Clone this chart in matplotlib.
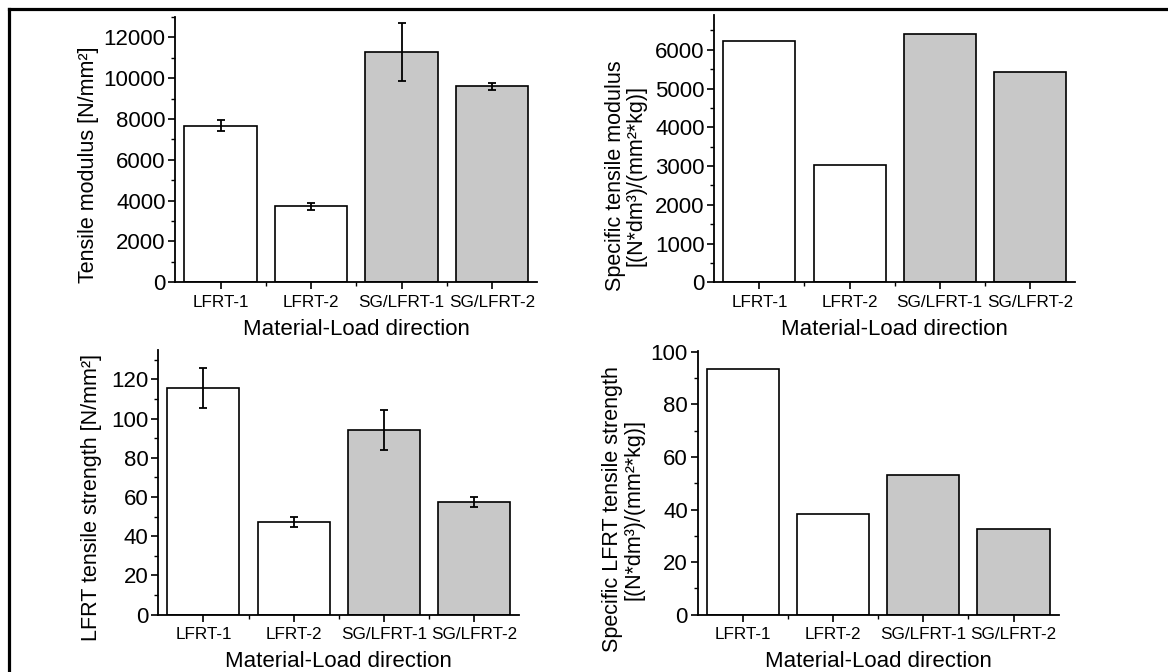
import matplotlib.pyplot as plt
from matplotlib.lines import Line2D
from matplotlib.ticker import MultipleLocator, FixedLocator

plt.rcParams['font.family'] = ['Liberation Sans', 'DejaVu Sans']

categories = ["LFRT-1", "LFRT-2", "SG/LFRT-1", "SG/LFRT-2"]

modulus = [7680, 3720, 11280, 9600]
modulus_err = [290, 170, 1440, 190]

spec_modulus = [6230, 3040, 6400, 5440]

strength = [115.4, 47.4, 94.2, 57.5]
strength_err = [10.2, 2.5, 10.3, 2.5]

spec_strength = [93.5, 38.3, 53.3, 32.6]

fills = ["white", "white", "#c8c8c8", "#c8c8c8"]

# panel: axes rect, values, errors, ylabel, ylim, major, minor, label x, label y
panels = [
    ([0.1502, 0.5799, 0.3099, 0.3948], modulus, modulus_err,
     "Tensile modulus [N/mm²]", 13000, 2000, 1000, -0.2406, 0.444),
    ([0.6116, 0.5799, 0.3087, 0.3978], spec_modulus, None,
     "Specific tensile modulus\n[(N*dm³)/(mm²*kg)]", 6900, 1000, 500, -0.2455, 0.398),
    ([0.1355, 0.0853, 0.3091, 0.3939], strength, strength_err,
     "LFRT tensile strength [N/mm²]", 135, 20, 10, -0.186, 0.443),
    ([0.5973, 0.0853, 0.3091, 0.3924], spec_strength, None,
     "Specific LFRT tensile strength\n[(N*dm³)/(mm²*kg)]", 100.3, 20, 10, -0.2066, 0.399),
]

fig = plt.figure(figsize=(11.68, 6.72), dpi=100)

x = list(range(len(categories)))
for rect, vals, errs, ylabel, ytop, major, minor, lx, ly in panels:
    ax = fig.add_axes(rect)
    ax.bar(x, vals, width=0.8, color=fills, edgecolor="black", linewidth=1.2, zorder=2)
    if errs is not None:
        ax.errorbar(x, vals, yerr=errs, fmt="none", ecolor="black",
                    elinewidth=1.3, capsize=3.2, capthick=1.3, zorder=3)
    ax.set_xlim(-0.5, 3.5)
    ax.set_ylim(0, ytop)
    ax.set_xticks(x)
    ax.set_xticklabels(categories, fontsize=12.3)
    ax.xaxis.set_minor_locator(FixedLocator([0.5, 1.5, 2.5]))
    ax.yaxis.set_major_locator(MultipleLocator(major))
    ax.yaxis.set_minor_locator(MultipleLocator(minor))
    ax.tick_params(axis="y", labelsize=16, width=1.2, length=5, pad=2)
    ax.tick_params(axis="x", width=1.2, length=5, pad=4)
    ax.tick_params(which="minor", width=1.0, length=3)
    for s in ["top", "right"]:
        ax.spines[s].set_visible(False)
    for s in ["left", "bottom"]:
        ax.spines[s].set_linewidth(1.3)
    ax.set_ylabel(ylabel, fontsize=15.5, va="center", linespacing=1.0)
    ax.yaxis.set_label_coords(lx, ly)
    ax.set_xlabel("Material-Load direction", fontsize=16, va="center")
    ax.xaxis.set_label_coords(0.5, -0.178)

# outer frame (left and top edges visible)
fig.add_artist(Line2D([9 / 1168, 9 / 1168], [0, 1 - 9 / 672], transform=fig.transFigure,
                      color="black", linewidth=2.3))
fig.add_artist(Line2D([9 / 1168, 1], [1 - 9 / 672, 1 - 9 / 672], transform=fig.transFigure,
                      color="black", linewidth=2.3))

plt.savefig("out.png", dpi=100)
